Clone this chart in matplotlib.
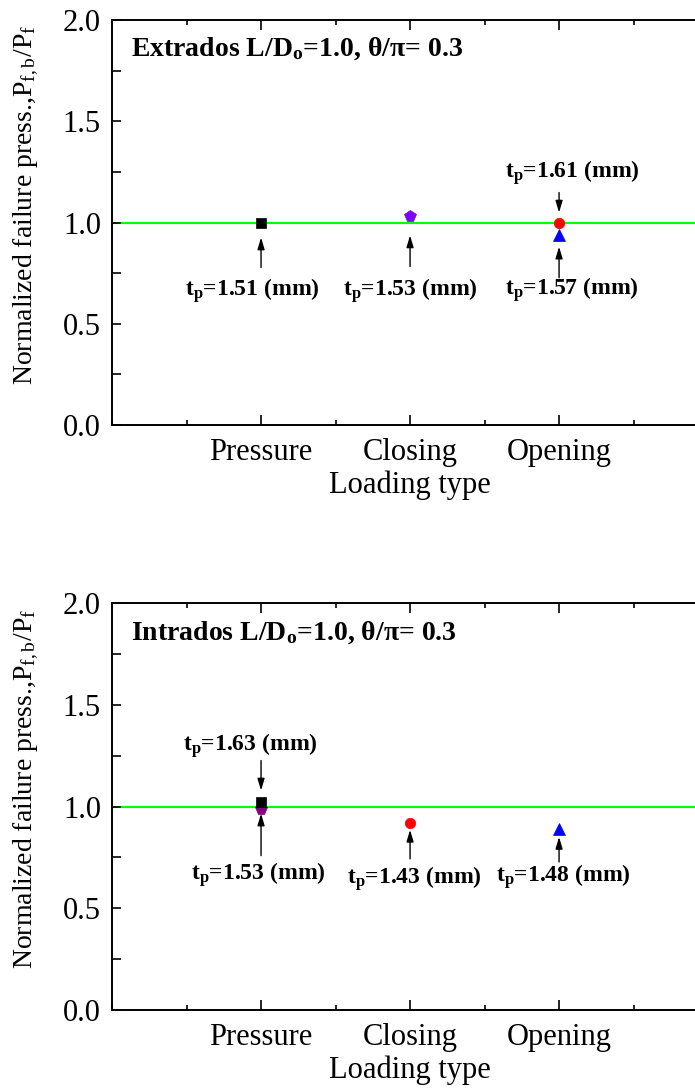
import matplotlib
matplotlib.use('Agg')
import matplotlib.pyplot as plt
from matplotlib.ticker import MultipleLocator, FixedLocator

plt.rcParams['font.family'] = ['Liberation Serif', 'DejaVu Serif']
plt.rcParams['mathtext.fontset'] = 'custom'
plt.rcParams['mathtext.rm'] = 'Liberation Serif'
plt.rcParams['mathtext.it'] = 'Liberation Serif:italic'
plt.rcParams['mathtext.bf'] = 'Liberation Serif:bold'

# loading cases on the x axis
loading = ['Pressure', 'Closing', 'Opening']

# extrados: position (1=pressure, 2=closing, 3=opening), normalized failure pressure, wall thickness
ext_pos = [1, 2, 3, 3]
ext_val = [1.00, 1.03, 1.00, 0.94]
ext_tp = [1.51, 1.53, 1.61, 1.57]

# intrados
int_pos = [1, 1, 2, 3]
int_val = [1.02, 0.99, 0.92, 0.89]
int_tp = [1.63, 1.53, 1.43, 1.48]

# marker styles for each point
ext_style = [('s', 'black', 6.7), ('p', '#8000ff', 8.5), ('o', 'red', 7.5), ('^', 'blue', 8.5)]
int_style = [('s', 'black', 6.7), ('p', '#800080', 8.5), ('o', 'red', 7.5), ('^', 'blue', 8.5)]
int_order = [1, 0, 2, 3]   # square drawn over pentagon

# label layout in pixels relative to marker: (arrow tail dy, tip gap, text dx, text dy), +dy = down
ext_lay = [(45, 15, -9, 73), (50, 19, 0, 79), (-30, 10, 13, -45), (43, 12, 13, 60)]
int_lay = [(-42, 12, -11, -52), (47, 5, -3, 71), (36, 7, 4, 61), (33, 8, 4, 53)]

PX = 0.72  # points per pixel at dpi 100


def panel(ax, pos, val, tp, style, lay, title, order=None):
    ax.axhline(1.0, color='#00ff00', lw=1.5, zorder=1)
    idx = order if order is not None else range(len(pos))
    for i in idx:
        m, c, s = style[i]
        ax.plot(pos[i], val[i], marker=m, color=c, ms=s, mec=c, mew=0.5,
                linestyle='none', zorder=3)
    for i in range(len(pos)):
        tdy, gap, xdx, xdy = lay[i]
        ax.annotate('', xy=(pos[i], val[i]), xytext=(0, -tdy * PX),
                    textcoords='offset points',
                    arrowprops=dict(arrowstyle='-|>,head_length=0.5,head_width=0.15',
                                    color='black', lw=1.0, shrinkA=0,
                                    shrinkB=gap * PX, mutation_scale=14))
        ax.annotate(r't$_\mathbf{p}$=%.2f (mm)' % tp[i], xy=(pos[i], val[i]),
                    xytext=(xdx * PX, -xdy * PX), textcoords='offset points',
                    ha='center', va='baseline', fontsize=17, fontweight='bold')
    ax.text(0.032, 0.911, title, transform=ax.transAxes, fontsize=20,
            fontweight='bold', ha='left', va='baseline')

    ax.set_xlim(0, 4)
    ax.set_ylim(0, 2.0)
    ax.xaxis.set_major_locator(FixedLocator([1, 2, 3]))
    ax.set_xticklabels(loading)
    ax.xaxis.set_minor_locator(MultipleLocator(0.5))
    ax.yaxis.set_major_locator(MultipleLocator(0.5))
    ax.yaxis.set_minor_locator(MultipleLocator(0.25))
    ax.yaxis.set_major_formatter(plt.FormatStrFormatter('%.1f'))
    ax.tick_params(which='both', direction='in', top=True, right=True,
                   labelsize=22, width=1.2)
    ax.tick_params(axis='x', which='major', length=7.5, pad=9)
    ax.tick_params(axis='x', which='minor', length=3.5)
    ax.tick_params(axis='y', which='both', length=6.5, pad=8)
    for sp in ax.spines.values():
        sp.set_linewidth(1.4)
    ax.set_xlabel('Loading type', fontsize=22, labelpad=3)
    ax.text(-0.143, 0.543, r'Normalized failure press.,P$_\mathrm{f,b}$/P$_\mathrm{f}$',
            transform=ax.transAxes, rotation=90, ha='center', va='center', fontsize=20)


fig = plt.figure(figsize=(6.95, 10.89), dpi=100)
ax1 = fig.add_axes([0.1612, 0.6097, 0.8576, 0.3719])
ax2 = fig.add_axes([0.1612, 0.0725, 0.8576, 0.3737])

panel(ax1, ext_pos, ext_val, ext_tp, ext_style, ext_lay,
      r'Extrados L/D$_\mathbf{o}$=1.0, θ/π= 0.3')
panel(ax2, int_pos, int_val, int_tp, int_style, int_lay,
      r'Intrados L/D$_\mathbf{o}$=1.0, θ/π= 0.3', order=int_order)

fig.savefig('out.png', dpi=100)
